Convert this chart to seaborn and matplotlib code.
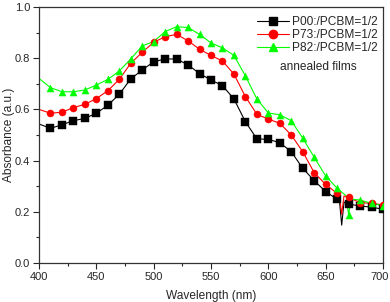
import numpy as np
import pandas as pd
import matplotlib
matplotlib.use("Agg")
import matplotlib.pyplot as plt
from matplotlib.lines import Line2D
from matplotlib.ticker import MultipleLocator
import matplotlib.transforms as mtransforms
import seaborn as sns

# Marker wavelengths (every 10 nm)
wl = [410, 420, 430, 440, 450, 460, 470, 480, 490, 500, 510, 520, 530, 540, 550,
      560, 570, 580, 590, 600, 610, 620, 630, 640, 650, 660, 670, 680, 690, 700]

p00 = [0.526, 0.540, 0.556, 0.565, 0.585, 0.616, 0.659, 0.719, 0.754, 0.786, 0.797, 0.797,
       0.774, 0.740, 0.715, 0.693, 0.641, 0.552, 0.485, 0.483, 0.470, 0.435, 0.370, 0.322,
       0.279, 0.249, 0.230, 0.223, 0.218, 0.210]
p73 = [0.585, 0.589, 0.607, 0.620, 0.642, 0.673, 0.717, 0.780, 0.823, 0.862, 0.884, 0.893,
       0.868, 0.835, 0.811, 0.789, 0.738, 0.650, 0.581, 0.562, 0.546, 0.500, 0.435, 0.353,
       0.307, 0.272, 0.256, 0.236, 0.233, 0.227]
p82 = [0.685, 0.669, 0.669, 0.676, 0.695, 0.717, 0.750, 0.797, 0.848, 0.865, 0.904, 0.923,
       0.920, 0.893, 0.860, 0.840, 0.811, 0.731, 0.641, 0.586, 0.579, 0.556, 0.488, 0.413,
       0.340, 0.292, 0.187, 0.246, 0.233, 0.224]

# Extra line-only points (start of spectra and the narrow dips)
p00_extra_wl = [400, 662, 664, 666]
p00_extra = [0.543, 0.245, 0.148, 0.238]
p73_extra_wl = [400, 662, 664, 666]
p73_extra = [0.600, 0.265, 0.190, 0.262]
p82_extra_wl = [400, 668, 672]
p82_extra = [0.721, 0.262, 0.250]

labels = ["P00:/PCBM=1/2", "P73:/PCBM=1/2", "P82:/PCBM=1/2"]
note = "annealed films"
colors = ["#000000", "#ff0000", "#00ff00"]
markers = ["s", "o", "^"]

sns.set_style("white")
plt.rcParams["font.family"] = ["Liberation Sans", "DejaVu Sans"]

fig = plt.figure(figsize=(3.9, 3.02), dpi=100)
ax = fig.add_axes([0.1, 0.1291, 0.882, 0.8477])

series = [(p00, p00_extra_wl, p00_extra), (p73, p73_extra_wl, p73_extra), (p82, p82_extra_wl, p82_extra)]
handles = []
for (vals, ewl, ev), lab, c, m in zip(series, labels, colors, markers):
    line_df = pd.DataFrame({"x": list(wl) + ewl, "y": list(vals) + ev}).sort_values("x")
    sns.lineplot(data=line_df, x="x", y="y", ax=ax, color=c, lw=0.8, sort=True, estimator=None)
    mk_df = pd.DataFrame({"x": wl, "y": vals})
    sns.scatterplot(data=mk_df, x="x", y="y", ax=ax, color=c, marker=m, s=26,
                    edgecolor=c, linewidth=0.3, zorder=3)
    handles.append(Line2D([], [], color=c, lw=0.8, marker=m, markersize=6,
                          markeredgecolor=c))

ax.set_xlim(400, 700)
ax.set_ylim(0, 1.0)
ax.xaxis.set_major_locator(MultipleLocator(50))
ax.xaxis.set_minor_locator(MultipleLocator(25))
ax.yaxis.set_major_locator(MultipleLocator(0.2))
ax.yaxis.set_minor_locator(MultipleLocator(0.1))
ax.yaxis.set_major_formatter(matplotlib.ticker.FormatStrFormatter("%.1f"))
ax.tick_params(axis="both", which="major", direction="out", length=4, width=0.8,
               labelsize=8, bottom=True, left=True, top=False, right=False, pad=2.5)
ax.tick_params(axis="both", which="minor", direction="out", length=2.5, width=0.8,
               bottom=True, left=True, top=False, right=False)
for sp in ax.spines.values():
    sp.set_color("#333333")
    sp.set_linewidth(0.9)

ax.set_xlabel("Wavelength (nm)", fontsize=8.6, labelpad=6)
ax.set_ylabel("Absorbance (a.u.)", fontsize=8.6, va="center")
ax.yaxis.set_label_coords(-0.088, 0.5)

leg = ax.legend(handles, labels, loc="upper right", bbox_to_anchor=(0.985, 0.965),
                frameon=False, fontsize=8.6, handlelength=2.7, handletextpad=0.25,
                labelspacing=0.08, borderaxespad=0.0, borderpad=0.0)
ax.text(0.811, 0.766, note, transform=ax.transAxes, fontsize=8.6, ha="center", va="center")

fig.canvas.draw()
# keep the last x tick label inside the figure
for t in ax.get_xticklabels():
    if t.get_text() == "700":
        t.set_transform(t.get_transform() + mtransforms.ScaledTranslation(-3 / 100, 0, fig.dpi_scale_trans))

fig.savefig("out.png", dpi=100)
